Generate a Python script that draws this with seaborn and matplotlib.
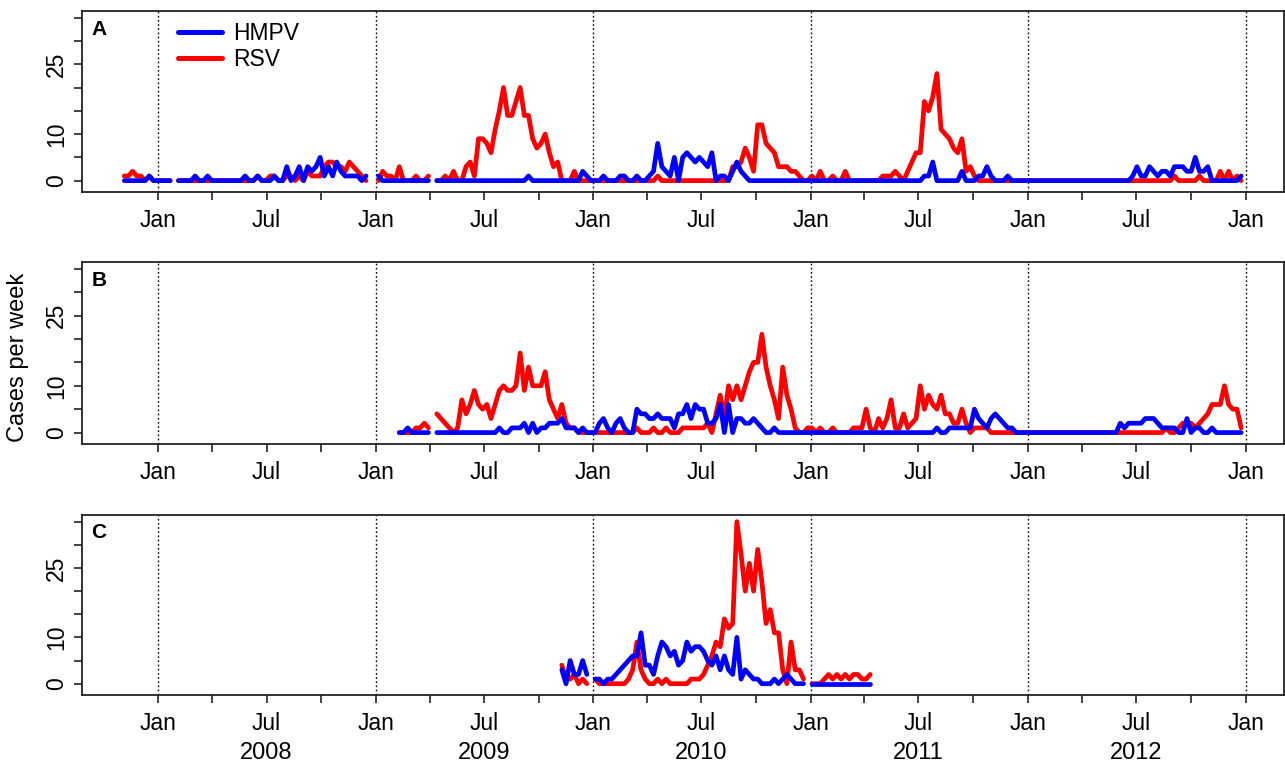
import numpy as np
import pandas as pd
import matplotlib
matplotlib.use("Agg")
import matplotlib.pyplot as plt
from matplotlib.lines import Line2D
from matplotlib.transforms import blended_transform_factory
import seaborn as sns

N = np.nan
first_week = "2007-10-29"
n_weeks = 270

# weekly cases, one row = 10 weeks (k0 = week of 2007-10-29), N = no data
hmpv_a = [
    N, 0, 0, 0, 0, 0, 0, 1, 0, 0,
    0, 0, 0, N, 0, 0, 0, 0, 1, 0,
    0, 1, 0, 0, 0, 0, 0, 0, 0, 0,
    1, 0, 0, 1, 0, 0, 0, 1, 0, 0,
    3, 0, 1, 3, 0, 3, 2, 3, 5, 1,
    3, 1, 4, 2, 1, 1, 1, 1, 0, 1,
    N, N, 1, 0, 0, 0, 0, 0, 0, 0,
    0, 0, 0, 0, 0, N, 0, 0, 0, 0,
    0, 0, 0, 0, 0, 0, 0, 0, 0, 0,
    0, 0, 0, 0, 0, 0, 0, 0, 1, 0,
    0, 0, 0, 0, 0, 0, 0, 0, 0, 0,
    0, 2, 1, 0, 0, 0, 1, 0, 0, 0,
    1, 1, 0, 0, 1, 0, 0, 1, 2, 8,
    3, 2, 1, 5, 0, 5, 6, 5, 4, 5,
    4, 3, 6, 0, 1, 1, 0, 2, 4, 2,
    1, 0, 0, 0, 0, 0, 0, 0, 0, 0,
    0, 0, 0, 0, 0, 0, 0, 0, 0, 0,
    0, 0, 0, 0, 0, 0, 0, 0, 0, 0,
    0, 0, 0, 0, 0, 0, 0, 0, 0, 0,
    0, 0, 0, 1, 1, 4, 0, 0, 0, 0,
    0, 0, 2, 0, 0, 0, 1, 1, 3, 1,
    0, 0, 0, 1, 0, 0, 0, 0, 0, 0,
    0, 0, 0, 0, 0, 0, 0, 0, 0, 0,
    0, 0, 0, 0, 0, 0, 0, 0, 0, 0,
    0, 0, 0, 1, 3, 1, 1, 3, 2, 1,
    2, 2, 1, 3, 3, 3, 2, 2, 5, 2,
    2, 3, 0, 0, 0, 0, 0, 0, 0, 1,
]
rsv_a = [
    N, 1, 1, 2, 1, 1, 0, 1, 0, 0,
    0, 0, 0, N, 0, 0, 0, 0, 0, 0,
    0, 0, 0, 0, 0, 0, 0, 0, 0, 0,
    0, 0, 0, 1, 0, 0, 1, 1, 0, 0,
    1, 1, 0, 1, 0, 2, 1, 1, 1, 3,
    4, 4, 3, 3, 2, 4, 3, 2, 1, 0,
    N, N, 0, 2, 1, 1, 0, 3, 0, 0,
    0, 1, 0, 0, 1, N, 0, 0, 1, 0,
    2, 0, 0, 3, 4, 1, 9, 9, 8, 6,
    11, 15, 20, 14, 14, 17, 20, 14, 14, 9,
    7, 8, 10, 6, 3, 4, 0, 0, 0, 2,
    0, 0, 0, 0, 0, 0, 0, 0, 0, 0,
    0, 0, 0, 0, 0, 0, 0, 0, 0, 1,
    0, 0, 0, 0, 0, 0, 0, 0, 0, 0,
    0, 0, 0, 0, 0, 0, 0, 3, 3, 4,
    7, 5, 2, 12, 12, 8, 7, 6, 3, 3,
    3, 2, 2, 1, 0, 0, 1, 0, 2, 0,
    0, 1, 0, 0, 2, 0, 0, 0, 0, 0,
    0, 0, 0, 1, 1, 1, 2, 1, 0, 2,
    4, 6, 6, 17, 15, 18, 23, 11, 10, 9,
    7, 6, 9, 2, 3, 1, 0, 0, 0, 0,
    0, 0, 0, 0, 0, 0, 0, 0, 0, 0,
    0, 0, 0, 0, 0, 0, 0, 0, 0, 0,
    0, 0, 0, 0, 0, 0, 0, 0, 0, 0,
    0, 0, 0, 0, 0, 0, 0, 0, 0, 0,
    0, 0, 0, 1, 0, 0, 0, 0, 0, 1,
    0, 0, 0, 0, 2, 0, 2, 0, 1, 0,
]
hmpv_b = [
    N, N, N, N, N, N, N, N, N, N,
    N, N, N, N, N, N, N, N, N, N,
    N, N, N, N, N, N, N, N, N, N,
    N, N, N, N, N, N, N, N, N, N,
    N, N, N, N, N, N, N, N, N, N,
    N, N, N, N, N, N, N, N, N, N,
    N, N, N, N, N, N, N, 0, 0, 1,
    0, 0, 0, 0, 0, N, 0, 0, 0, 0,
    0, 0, 0, 0, 0, 0, 0, 0, 0, 0,
    0, 1, 0, 0, 1, 1, 1, 2, 0, 2,
    0, 1, 1, 2, 2, 2, 3, 1, 1, 1,
    0, 1, 0, 0, 0, 2, 3, 1, 0, 2,
    3, 1, 0, 0, 5, 4, 4, 3, 3, 4,
    3, 3, 3, 1, 4, 4, 6, 3, 6, 5,
    5, 2, 2, 3, 6, 0, 6, 0, 3, 3,
    2, 2, 3, 2, 1, 0, 0, 1, 0, 0,
    0, 0, 0, 0, 0, 0, 0, 0, 0, 0,
    0, 0, 0, 0, 0, 0, 0, 0, 0, 0,
    0, 0, 0, 0, 0, 0, 0, 0, 0, 0,
    0, 0, 0, 0, 0, 0, 1, 0, 0, 1,
    1, 1, 1, 1, 1, 5, 3, 2, 1, 3,
    4, 3, 2, 1, 1, 0, 0, 0, 0, 0,
    0, 0, 0, 0, 0, 0, 0, 0, 0, 0,
    0, 0, 0, 0, 0, 0, 0, 0, 0, 0,
    2, 1, 2, 2, 2, 2, 3, 3, 3, 2,
    1, 1, 1, 1, 0, 0, 3, 0, 1, 1,
    0, 0, 1, 0, 0, 0, 0, 0, 0, 0,
]
rsv_b = [
    N, N, N, N, N, N, N, N, N, N,
    N, N, N, N, N, N, N, N, N, N,
    N, N, N, N, N, N, N, N, N, N,
    N, N, N, N, N, N, N, N, N, N,
    N, N, N, N, N, N, N, N, N, N,
    N, N, N, N, N, N, N, N, N, N,
    N, N, N, N, N, N, N, 0, 0, 0,
    0, 1, 1, 2, 1, N, 4, 3, 2, 1,
    0, 1, 7, 4, 6, 9, 6, 5, 6, 3,
    6, 9, 10, 9, 9, 10, 17, 9, 14, 10,
    10, 10, 13, 7, 5, 3, 6, 2, 1, 1,
    0, 0, 0, 0, 0, 0, 0, 0, 0, 0,
    0, 0, 0, 0, 1, 0, 0, 0, 1, 0,
    0, 1, 0, 0, 0, 1, 1, 1, 1, 1,
    1, 2, 0, 4, 8, 3, 10, 7, 10, 7,
    10, 13, 15, 15, 21, 14, 10, 7, 3, 14,
    8, 5, 1, 0, 0, 1, 1, 0, 1, 0,
    0, 1, 0, 0, 0, 0, 1, 1, 1, 5,
    1, 0, 3, 1, 3, 7, 1, 1, 4, 1,
    2, 3, 10, 5, 8, 6, 5, 8, 4, 4,
    2, 2, 5, 2, 0, 1, 1, 1, 1, 0,
    0, 0, 0, 0, 0, 0, 0, 0, 0, 0,
    0, 0, 0, 0, 0, 0, 0, 0, 0, 0,
    0, 0, 0, 0, 0, 0, 0, 0, 0, 0,
    0, 0, 0, 0, 0, 0, 0, 0, 0, 0,
    0, 1, 0, 0, 1, 2, 2, 2, 1, 2,
    3, 4, 6, 6, 6, 10, 6, 5, 5, 1,
]
hmpv_c = [
    N, N, N, N, N, N, N, N, N, N,
    N, N, N, N, N, N, N, N, N, N,
    N, N, N, N, N, N, N, N, N, N,
    N, N, N, N, N, N, N, N, N, N,
    N, N, N, N, N, N, N, N, N, N,
    N, N, N, N, N, N, N, N, N, N,
    N, N, N, N, N, N, N, N, N, N,
    N, N, N, N, N, N, N, N, N, N,
    N, N, N, N, N, N, N, N, N, N,
    N, N, N, N, N, N, N, N, N, N,
    N, N, N, N, N, N, 3, 0, 5, 2,
    2, 5, 2, N, 1, 1, 0, 1, 1, 2,
    3, 4, 5, 6, 6, 11, 4, 4, 2, 6,
    9, 8, 6, 7, 4, 5, 9, 7, 8, 8,
    7, 5, 4, 6, 3, 6, 3, 2, 10, 1,
    3, 2, 1, 1, 0, 0, 0, 1, 0, 1,
    2, 1, 0, 0, 0, N, 0, 0, 0, 0,
    0, 0, 0, 0, 0, 0, 0, 0, 0, 0,
    0, N, N, N, N, N, N, N, N, N,
    N, N, N, N, N, N, N, N, N, N,
    N, N, N, N, N, N, N, N, N, N,
    N, N, N, N, N, N, N, N, N, N,
    N, N, N, N, N, N, N, N, N, N,
    N, N, N, N, N, N, N, N, N, N,
    N, N, N, N, N, N, N, N, N, N,
    N, N, N, N, N, N, N, N, N, N,
    N, N, N, N, N, N, N, N, N, N,
]
rsv_c = [
    N, N, N, N, N, N, N, N, N, N,
    N, N, N, N, N, N, N, N, N, N,
    N, N, N, N, N, N, N, N, N, N,
    N, N, N, N, N, N, N, N, N, N,
    N, N, N, N, N, N, N, N, N, N,
    N, N, N, N, N, N, N, N, N, N,
    N, N, N, N, N, N, N, N, N, N,
    N, N, N, N, N, N, N, N, N, N,
    N, N, N, N, N, N, N, N, N, N,
    N, N, N, N, N, N, N, N, N, N,
    N, N, N, N, N, N, 4, 1, 1, 2,
    0, 1, 0, N, 1, 0, 0, 0, 0, 0,
    0, 0, 1, 3, 9, 3, 1, 0, 0, 1,
    0, 1, 0, 0, 0, 0, 0, 1, 1, 1,
    2, 4, 6, 9, 8, 14, 12, 13, 35, 28,
    20, 26, 20, 29, 22, 13, 16, 11, 11, 3,
    0, 9, 3, 3, 1, N, 0, 0, 0, 1,
    2, 1, 2, 1, 2, 1, 2, 2, 1, 1,
    2, N, N, N, N, N, N, N, N, N,
    N, N, N, N, N, N, N, N, N, N,
    N, N, N, N, N, N, N, N, N, N,
    N, N, N, N, N, N, N, N, N, N,
    N, N, N, N, N, N, N, N, N, N,
    N, N, N, N, N, N, N, N, N, N,
    N, N, N, N, N, N, N, N, N, N,
    N, N, N, N, N, N, N, N, N, N,
    N, N, N, N, N, N, N, N, N, N,
]

panel_letters = ["A", "B", "C"]
series = [(hmpv_a, rsv_a), (hmpv_b, rsv_b), (hmpv_c, rsv_c)]
years = [2008, 2009, 2010, 2011, 2012]
y_ticks = [0, 5, 10, 15, 20, 25, 30, 35]
y_labels = ["0", "", "10", "", "", "25", "", ""]

weeks = pd.date_range(first_week, periods=n_weeks, freq="7D")


def to_frame(values):
    assert len(values) == n_weeks, len(values)
    s = pd.Series(values, index=weeks, dtype=float)
    seg = s.isna().cumsum()
    df = pd.DataFrame({"week": weeks, "cases": s.values, "seg": seg.values})
    return df.dropna()


sns.set_theme(style="ticks")
plt.rcParams["font.family"] = ["Liberation Sans", "DejaVu Sans"]
plt.rcParams["text.color"] = "black"
plt.rcParams["axes.labelcolor"] = "black"
font_size = 16.5
blue = "#0000FF"
red = "#FF0000"

W, H = 1285, 764
fig = plt.figure(figsize=(W / 100, H / 100), dpi=100)
tops = [11, 262, 515]
bottoms = [192, 444, 695]
left, right = 82, 1284

quarters = pd.date_range("2008-01-01", "2013-01-01", freq="QS")
x_labels = [{1: "Jan", 7: "Jul"}.get(d.month, "") for d in quarters]
jans = pd.date_range("2008-01-01", "2013-01-01", freq="YS")

axes = []
for i, (hm, rs) in enumerate(series):
    ax = fig.add_axes([left / W, 1 - bottoms[i] / H, (right - left) / W, (bottoms[i] - tops[i]) / H])
    axes.append(ax)
    for d in jans:
        ax.axvline(d, color="black", ls=(0, (1.2, 1.8)), lw=1.0, zorder=1)
    sns.lineplot(data=to_frame(rs), x="week", y="cases", units="seg", estimator=None,
                 color=red, lw=3.4, ax=ax, legend=False,
                 solid_capstyle="round", solid_joinstyle="round")
    sns.lineplot(data=to_frame(hm), x="week", y="cases", units="seg", estimator=None,
                 color=blue, lw=3.4, ax=ax, legend=False,
                 solid_capstyle="round", solid_joinstyle="round")
    ax.set_xlim(pd.Timestamp("2007-08-26"), pd.Timestamp("2013-03-06"))
    ax.set_ylim(-2.44, 36.44)
    ax.set_xticks(quarters, labels=x_labels)
    ax.set_yticks(y_ticks, labels=y_labels, rotation=90, va="center")
    ax.set_xlabel("")
    ax.set_ylabel("")
    ax.tick_params(axis="both", direction="out", length=6, width=1.2, color="#222222",
                   labelsize=font_size, labelcolor="black")
    ax.tick_params(axis="x", pad=6)
    ax.tick_params(axis="y", pad=4)
    for sp in ax.spines.values():
        sp.set_visible(True)
        sp.set_linewidth(1.3)
        sp.set_color("#222222")
    ax.text(0.008, 0.9, panel_letters[i], transform=ax.transAxes, fontsize=15,
            fontweight="bold", ha="left", va="center")

handles = [Line2D([], [], color=blue, lw=3.6, solid_capstyle="round"),
           Line2D([], [], color=red, lw=3.6, solid_capstyle="round")]
axes[0].legend(handles, ["HMPV", "RSV"], loc="upper left",
               bbox_to_anchor=((178 - left) / (right - left), 1 - (22 - 11) / 181),
               frameon=False, fontsize=16.5, handlelength=1.9, handletextpad=0.5,
               labelspacing=0.15, borderpad=0, borderaxespad=0)

trans = blended_transform_factory(axes[2].transData, axes[2].transAxes)
for yr in years:
    axes[2].text(pd.Timestamp(f"{yr}-07-01"), -0.32, str(yr), transform=trans,
                 ha="center", va="center", fontsize=font_size + 0.5)

fig.text(18 / W, 1 - 357 / H, "Cases per week", rotation=90, ha="center", va="center",
         fontsize=17)

fig.savefig("out.png", dpi=100)
